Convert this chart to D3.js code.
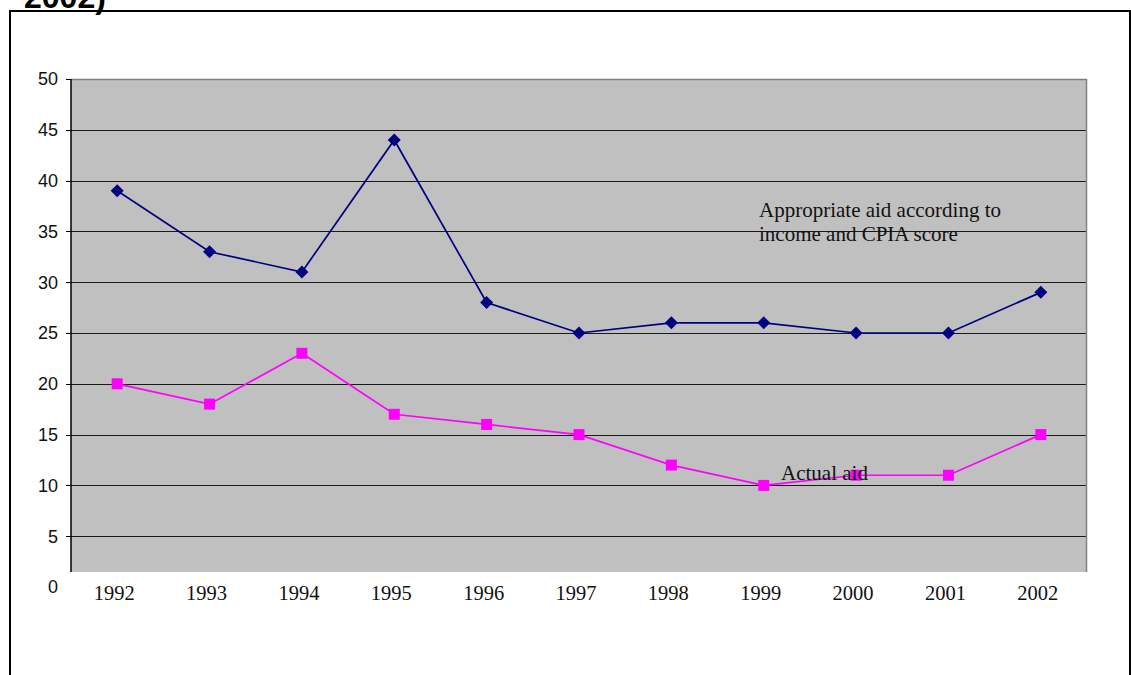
<!DOCTYPE html>
<html>
<head>
<meta charset="utf-8">
<script src="https://cdn.jsdelivr.net/npm/d3@7"></script>
<style>
  body { margin: 0; background: #fff; }
  svg { display: block; }
</style>
</head>
<body>
<div class="svg-div"></div>
<script>
// chart data
const years = ["1992", "1993", "1994", "1995", "1996", "1997", "1998", "1999", "2000", "2001", "2002"];
const appropriateAid = [39, 33, 31, 44, 28, 25, 26, 26, 25, 25, 29];
const actualAid = [20, 18, 23, 17, 16, 15, 12, 10, 11, 11, 15];
const yTicks = [0, 5, 10, 15, 20, 25, 30, 35, 40, 45, 50];

const svgWidth = 1131, svgHeight = 675;
const plot = { left: 71, right: 1087, top: 79, bottom: 572 };

let svg = d3.select(".svg-div").append("svg")
  .attr("width", svgWidth)
  .attr("height", svgHeight);

// outer frame
svg.append("rect")
  .attr("x", 10).attr("y", 11)
  .attr("width", 1120).attr("height", 700)
  .attr("fill", "none")
  .attr("stroke", "#000")
  .attr("stroke-width", 2);

// title from page above, clipped at top like the source
svg.append("text")
  .attr("x", 24).attr("y", 8)
  .attr("font-family", "Liberation Sans, Arial, sans-serif")
  .attr("font-weight", "bold")
  .attr("font-size", 32)
  .text("2002)");

let x = d3.scalePoint()
  .domain(years)
  .range([plot.left, plot.right])
  .padding(0.5);

let y = d3.scaleLinear()
  .domain([0, 50])
  .range([587, 79]);

// plot area
svg.append("rect")
  .attr("x", plot.left).attr("y", plot.top)
  .attr("width", plot.right - plot.left)
  .attr("height", plot.bottom - plot.top)
  .attr("fill", "#c0c0c0");

// grid lines
svg.selectAll(".grid")
  .data(yTicks.filter(d => d > 0 && d < 50))
  .enter()
  .append("line")
  .attr("class", "grid")
  .attr("x1", plot.left).attr("x2", plot.right)
  .attr("y1", d => Math.round(y(d)) + 0.5)
  .attr("y2", d => Math.round(y(d)) + 0.5)
  .attr("stroke", "#1a1a1a")
  .attr("stroke-width", 1);

// top and right border
svg.append("path")
  .attr("d", `M${plot.left},${plot.top + 0.5}H${plot.right - 0.5}V${plot.bottom}`)
  .attr("fill", "none")
  .attr("stroke", "#808080")
  .attr("stroke-width", 1.5);

// y axis
let yAxis = svg.append("g")
  .attr("transform", `translate(${plot.left},0)`);
yAxis.append("line")
  .attr("x1", 0).attr("x2", 0)
  .attr("y1", plot.top).attr("y2", plot.bottom)
  .attr("stroke", "#000").attr("stroke-width", 1.5);
yAxis.selectAll(".tick")
  .data(yTicks.filter(d => d > 0))
  .enter()
  .append("line")
  .attr("x1", -5).attr("x2", 0)
  .attr("y1", d => Math.round(y(d)) + 0.5)
  .attr("y2", d => Math.round(y(d)) + 0.5)
  .attr("stroke", "#000");
yAxis.selectAll(".ylab")
  .data(yTicks)
  .enter()
  .append("text")
  .attr("class", "ylab")
  .attr("x", -13)
  .attr("y", d => y(d))
  .attr("dy", "0.36em")
  .attr("text-anchor", "end")
  .attr("font-family", "Liberation Sans, Arial, sans-serif")
  .attr("font-size", 18)
  .attr("fill", "#111")
  .text(d => d);

// x labels
svg.selectAll(".xlab")
  .data(years)
  .enter()
  .append("text")
  .attr("class", "xlab")
  .attr("x", d => x(d) - 3)
  .attr("y", 600)
  .attr("text-anchor", "middle")
  .attr("font-family", "Liberation Serif, Times New Roman, serif")
  .attr("font-size", 20.5)
  .attr("fill", "#111")
  .text(d => d);

let line = d3.line()
  .x((d, i) => x(years[i]))
  .y(d => y(d));

// appropriate aid series
svg.append("path")
  .datum(appropriateAid)
  .attr("d", line)
  .attr("fill", "none")
  .attr("stroke", "#000080")
  .attr("stroke-width", 1.7);
svg.selectAll(".diamond")
  .data(appropriateAid)
  .enter()
  .append("path")
  .attr("class", "diamond")
  .attr("d", "M0,-6.5L6.5,0L0,6.5L-6.5,0Z")
  .attr("transform", (d, i) => `translate(${x(years[i])},${y(d)})`)
  .attr("fill", "#000080");

// actual aid series
svg.append("path")
  .datum(actualAid)
  .attr("d", line)
  .attr("fill", "none")
  .attr("stroke", "#ff00ff")
  .attr("stroke-width", 1.7);
svg.selectAll(".square")
  .data(actualAid)
  .enter()
  .append("rect")
  .attr("class", "square")
  .attr("x", (d, i) => x(years[i]) - 5.5)
  .attr("y", d => y(d) - 5.5)
  .attr("width", 11).attr("height", 11)
  .attr("fill", "#ff00ff");

// annotations
let note = svg.append("text")
  .attr("font-family", "Liberation Serif, Times New Roman, serif")
  .attr("font-size", 21)
  .attr("fill", "#111");
note.append("tspan").attr("x", 759).attr("y", 217).text("Appropriate aid according to");
note.append("tspan").attr("x", 759).attr("y", 241).text("income and CPIA score");

svg.append("text")
  .attr("x", 781).attr("y", 480)
  .attr("font-family", "Liberation Serif, Times New Roman, serif")
  .attr("font-size", 21)
  .attr("fill", "#111")
  .text("Actual aid");
</script>
</body>
</html>
